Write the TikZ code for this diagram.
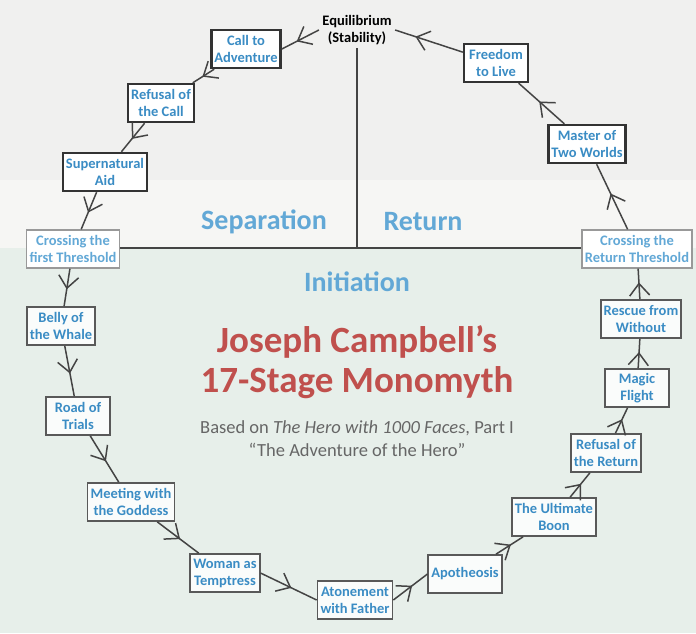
\documentclass[tikz,border=0pt]{standalone}
\usepackage{fontspec}
\setmainfont{Carlito}
\usetikzlibrary{arrows.meta,decorations.markings}

\definecolor{stageblue}{HTML}{3A8CC4}
\definecolor{paleblue}{HTML}{62A8D6}
\definecolor{titlered}{HTML}{C0504D}
\definecolor{linegrey}{HTML}{444444}
\definecolor{bgtop}{HTML}{F0F0EF}
\definecolor{bgmid}{HTML}{F6F6F4}
\definecolor{bglow}{HTML}{E7EFEA}

\begin{document}
\begin{tikzpicture}[x=1pt,y=-1pt]

    \tikzset{
      stage/.style={
        draw=black!80,
        line width=2.4pt,
        fill=white,
        text=stageblue,
        font=\fontsize{14.5}{17}\selectfont\bfseries,
        align=center,
        inner xsep=3pt,
        inner ysep=2pt,
        minimum width=64pt,
        minimum height=38pt,
      },
      stagelow/.style={
        stage,
        draw=black!65,
        line width=1.7pt,
        fill=white!80!bglow,
      },
      threshold/.style={
        stagelow,
        draw=black!40,
        line width=1.4pt,
        fill=white,
        text=paleblue,
      },
      phase/.style={
        text=paleblue,
        font=\fontsize{28}{30}\selectfont\bfseries,
      },
      flow/.style={
        draw=linegrey,
        line width=1.5pt,
        postaction={decorate},
        decoration={markings,
          mark=at position #1 with {\arrow{Straight Barb[length=12pt,width=20pt,line width=1.5pt]}}},
      },
      flow/.default=0.55,
    }
    \useasboundingbox (0,0) rectangle (696,633);
    % background bands
    \fill[bgtop] (0,0) rectangle (696,180);
    \fill[bgmid] (0,180) rectangle (696,248);
    \fill[bglow] (0,248) rectangle (696,633);

    \node[font=\fontsize{14.5}{17}\selectfont\bfseries,align=center] (eq) at (357,30) {Equilibrium\\(Stability)};

	\node[stage] (call) at (246,49) {Call to\\Adventure};
	\node[stage] (refusal) at (161,103) {Refusal of\\the Call};
	\node[stage] (aid) at (105,172) {Supernatural\\Aid};
	\node[threshold] (first) at (73,249) {Crossing the\\first Threshold};
	\node[stagelow] (belly) at (61,326) {Belly of\\the Whale};
	\node[stagelow] (road) at (78,416) {Road of\\Trials};
	\node[stagelow] (goddess) at (131,502) {Meeting with\\the Goddess};
	\node[stagelow] (woman) at (225,573) {Woman as\\Temptress};
	\node[stagelow] (atone) at (355,600) {Atonement\\with Father};
	\node[stagelow] (apo) at (465,574) {Apotheosis};
	\node[stagelow] (boon) at (554,517) {The Ultimate\\Boon};
	\node[stagelow] (refret) at (606,453) {Refusal of\\the Return};
	\node[stagelow] (magic) at (637,388) {Magic\\Flight};
	\node[stagelow] (rescue) at (641,319) {Rescue from\\Without};
	\node[threshold] (retth) at (637,249) {Crossing the\\Return Threshold};
	\node[stage] (master) at (587,144) {Master of\\Two Worlds};
	\node[stage] (freedom) at (496,63) {Freedom\\to Live};

    % cross dividing the three phases
    \coordinate (top) at (357,48);
    \coordinate (mid) at (357,248);
    \draw[linegrey,line width=1.5pt] (top) -- (mid);
    \draw[linegrey,line width=1.3pt] (first.east |- mid) -- (retth.west |- mid);

    \node[phase] (sep) at (264,222) {Separation};
    \node[phase] (ret) at (423,222) {Return};
    \node[phase] (init) at (357,282) {Initiation};

    \node[text=titlered,font=\fontsize{37}{40}\selectfont\bfseries,align=center] (title) at (357,362) {Joseph Campbell’s\\17-Stage Monomyth};
    \node[text=black!60,font=\fontsize{18.5}{23}\selectfont,align=center] (sub) at (357,439) {Based on \textit{The Hero with 1000 Faces}, Part I\\“The Adventure of the Hero”};

    % the journey
    \draw[flow=0.6] (eq.west) -- (call.east);
    \draw[flow] (call) -- (refusal);
    \draw[flow] (refusal) -- (aid);
    \draw[flow] (aid) -- (first);
    \draw[flow] (first) -- (belly);
    \draw[flow] (belly) -- (road);
    \draw[flow] (road) -- (goddess);
    \draw[flow] (goddess) -- (woman);
    \draw[flow] (woman.east) -- (atone.west);
    \draw[flow] (atone.east) -- (apo.west);
    \draw[flow] (apo) -- (boon);
    \draw[flow] (boon) -- (refret);
    \draw[flow] (refret) -- (magic);
    \draw[flow] (magic) -- (rescue);
    \draw[flow] (rescue) -- (retth);
    \draw[flow] (retth) -- (master);
    \draw[flow] (master) -- (freedom);
    \draw[flow=0.7] (freedom) -- (eq.east);

\end{tikzpicture}
\end{document}
